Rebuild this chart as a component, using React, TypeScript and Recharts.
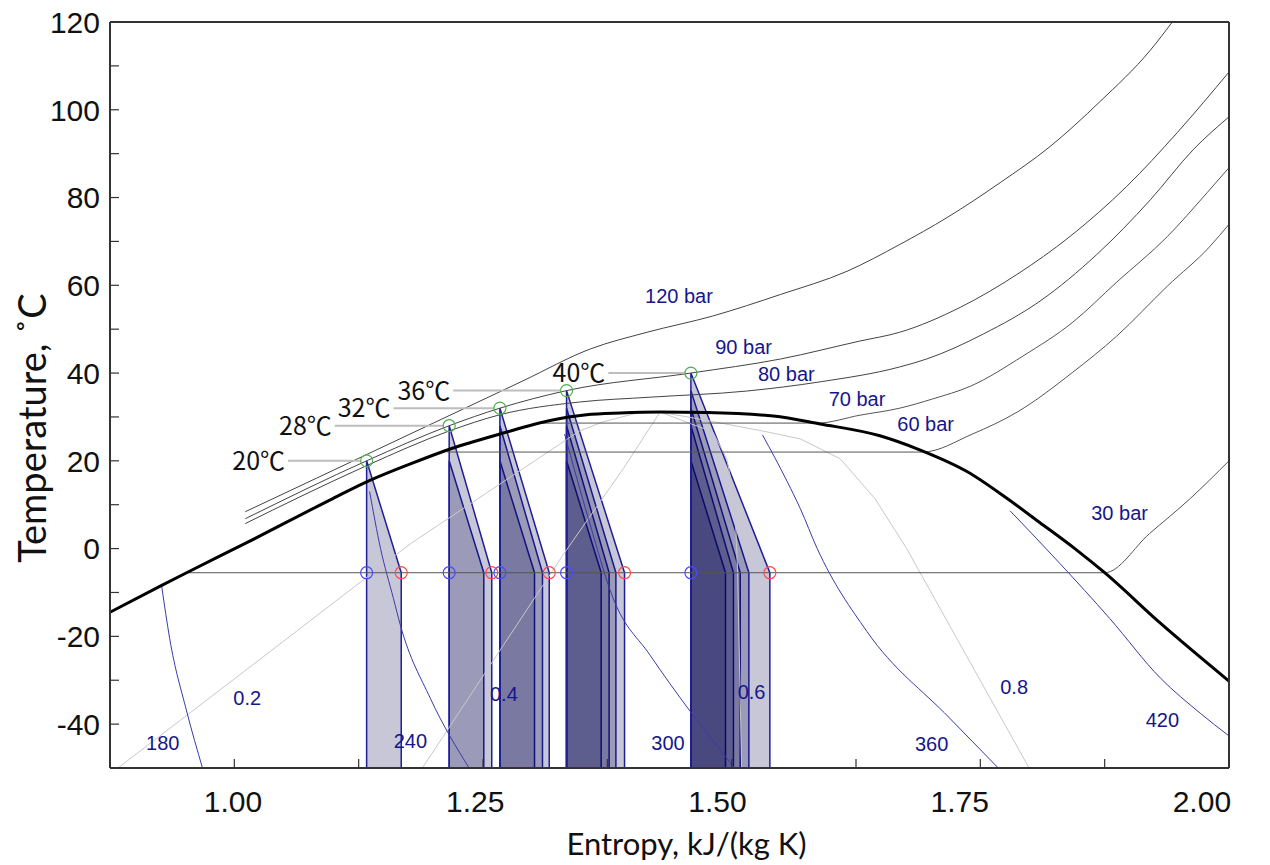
import React from 'react';
import { ComposedChart, Line, Area, Scatter, XAxis, YAxis } from 'recharts';

type Pt = { s: number; T: number };

// saturation dome of CO2 (entropy kJ/(kg K), temperature °C)
const satDome: Pt[] = [
  { s: 0.875, T: -14.5 }, { s: 0.927, T: -8.4 }, { s: 0.952, T: -5.5 }, { s: 1.013, T: 1.4 },
  { s: 1.099, T: 11.4 }, { s: 1.133, T: 15.2 }, { s: 1.177, T: 19.3 }, { s: 1.217, T: 22.7 },
  { s: 1.267, T: 26.1 }, { s: 1.32, T: 29.3 }, { s: 1.354, T: 30.5 }, { s: 1.388, T: 30.9 },
  { s: 1.428, T: 31.1 }, { s: 1.475, T: 31.0 }, { s: 1.542, T: 30.2 }, { s: 1.589, T: 28.4 },
  { s: 1.649, T: 25.7 }, { s: 1.689, T: 22.5 }, { s: 1.737, T: 17.5 }, { s: 1.777, T: 11.4 },
  { s: 1.81, T: 5.9 }, { s: 1.845, T: 0.0 }, { s: 1.875, T: -5.5 }, { s: 1.931, T: -17 },
  { s: 2.0, T: -30.2 },
];

// isobars
const p120: Pt[] = [
  { s: 1.011, T: 8.4 }, { s: 1.1, T: 17.9 }, { s: 1.2, T: 28.6 }, { s: 1.29, T: 38.2 },
  { s: 1.358, T: 45.5 }, { s: 1.415, T: 49.3 }, { s: 1.481, T: 53.0 }, { s: 1.549, T: 57.9 },
  { s: 1.616, T: 63.2 }, { s: 1.669, T: 69.3 }, { s: 1.717, T: 75.5 }, { s: 1.77, T: 83.4 },
  { s: 1.82, T: 91.6 }, { s: 1.87, T: 101.8 }, { s: 1.921, T: 113.6 }, { s: 1.943, T: 120 },
];
const p90: Pt[] = [
  { s: 1.011, T: 6.8 }, { s: 1.133, T: 20 }, { s: 1.216, T: 28 }, { s: 1.267, T: 32 },
  { s: 1.334, T: 36 }, { s: 1.459, T: 40 }, { s: 1.549, T: 43.2 }, { s: 1.629, T: 47.3 },
  { s: 1.669, T: 49.3 }, { s: 1.73, T: 55.0 }, { s: 1.787, T: 62.5 }, { s: 1.84, T: 71.1 },
  { s: 1.897, T: 82.5 }, { s: 1.948, T: 94.8 }, { s: 2.0, T: 108.6 },
];
const p80: Pt[] = [
  { s: 1.011, T: 5.7 }, { s: 1.066, T: 11.8 }, { s: 1.133, T: 18.9 }, { s: 1.216, T: 26.8 },
  { s: 1.267, T: 30.5 }, { s: 1.347, T: 33.4 }, { s: 1.418, T: 34.5 }, { s: 1.515, T: 35.9 },
  { s: 1.589, T: 38.0 }, { s: 1.669, T: 41.4 }, { s: 1.696, T: 43.2 }, { s: 1.753, T: 48.9 },
  { s: 1.81, T: 56.4 }, { s: 1.867, T: 67.0 }, { s: 1.921, T: 79.5 }, { s: 1.964, T: 90.9 },
  { s: 2.0, T: 98.4 },
];
const p70: Pt[] = [
  { s: 1.306, T: 28.6 }, { s: 1.586, T: 28.6 }, { s: 1.629, T: 30.4 }, { s: 1.669, T: 32.0 },
  { s: 1.702, T: 34.1 }, { s: 1.74, T: 37.0 }, { s: 1.793, T: 43.9 }, { s: 1.843, T: 51.6 },
  { s: 1.887, T: 60.7 }, { s: 1.938, T: 71.1 }, { s: 1.978, T: 81.1 }, { s: 2.0, T: 86.8 },
];
const p60: Pt[] = [
  { s: 1.214, T: 22 }, { s: 1.692, T: 22 }, { s: 1.742, T: 26.1 }, { s: 1.787, T: 31.1 },
  { s: 1.843, T: 40.2 }, { s: 1.887, T: 48.4 }, { s: 1.938, T: 59.8 }, { s: 1.981, T: 68.9 },
  { s: 2.0, T: 73.9 },
];
const p30: Pt[] = [
  { s: 0.952, T: -5.5 }, { s: 1.875, T: -5.5 }, { s: 1.92, T: 3.4 }, { s: 1.961, T: 11.4 },
  { s: 2.0, T: 20 },
];

// isenthalps (kJ/kg)
const h180: Pt[] = [{ s: 0.927, T: -8.6 }, { s: 0.935, T: -20.5 }, { s: 0.952, T: -37.0 }, { s: 0.968, T: -50 }];
const h240: Pt[] = [
  { s: 1.136, T: 13 }, { s: 1.147, T: 0 }, { s: 1.16, T: -11.4 }, { s: 1.167, T: -17.5 },
  { s: 1.197, T: -34.1 }, { s: 1.236, T: -50 },
];
const h300: Pt[] = [
  { s: 1.332, T: 26.1 }, { s: 1.356, T: 6.8 }, { s: 1.381, T: -11.4 }, { s: 1.418, T: -24.3 },
  { s: 1.458, T: -37.0 }, { s: 1.503, T: -50 },
];
const h360: Pt[] = [
  { s: 1.531, T: 25.9 }, { s: 1.556, T: 15.2 }, { s: 1.569, T: 9.1 }, { s: 1.586, T: 0 },
  { s: 1.636, T: -18.9 }, { s: 1.719, T: -38.6 }, { s: 1.768, T: -50 },
];
const h420: Pt[] = [
  { s: 1.78, T: 8.6 }, { s: 1.83, T: -3.4 }, { s: 1.88, T: -15.9 }, { s: 1.931, T: -29.5 },
  { s: 1.971, T: -37.5 }, { s: 2.0, T: -42.7 },
];

// vapour quality lines
const q02: Pt[] = [
  { s: 0.883, T: -50 }, { s: 1.03, T: -24.5 }, { s: 1.177, T: 1.1 }, { s: 1.347, T: 26.8 },
  { s: 1.371, T: 28.9 }, { s: 1.405, T: 30.9 }, { s: 1.428, T: 31.1 },
];
const q04: Pt[] = [{ s: 1.189, T: -50 }, { s: 1.33, T: -1.6 }, { s: 1.391, T: 18.2 }, { s: 1.428, T: 31.1 }];
const q06: Pt[] = [
  { s: 1.428, T: 31.1 }, { s: 1.481, T: 26.6 }, { s: 1.495, T: 20.5 }, { s: 1.503, T: 11.4 },
  { s: 1.506, T: -5.5 }, { s: 1.51, T: -50 },
];
const q08: Pt[] = [
  { s: 1.428, T: 31.1 }, { s: 1.468, T: 29.5 }, { s: 1.531, T: 26.8 }, { s: 1.569, T: 25.0 },
  { s: 1.609, T: 20.5 }, { s: 1.644, T: 11.4 }, { s: 1.676, T: 0 }, { s: 1.719, T: -17.5 },
  { s: 1.799, T: -50 },
];

// cycles: gas cooler exit temperature / entropy, and width of each cycle at the evaporator
const gasCoolerT = [20, 28, 32, 36, 40];
const gasCoolerS = [1.133, 1.216, 1.267, 1.334, 1.459];
const cycleWidth = [0.0348, 0.0428, 0.0496, 0.0583, 0.0794];
const evapT = -5.5;
const floorT = -50;
const leaderStartS = [1.054, 1.101, 1.16, 1.22, 1.376];

const barNotes = [
  { s: 1.447, T: 57.7, text: '120 bar' },
  { s: 1.512, T: 45.9, text: '90 bar' },
  { s: 1.555, T: 39.8, text: '80 bar' },
  { s: 1.626, T: 34.1, text: '70 bar' },
  { s: 1.695, T: 28.4, text: '60 bar' },
  { s: 1.89, T: 8.2, text: '30 bar' },
  { s: 0.928, T: -44.3, text: '180' },
  { s: 1.177, T: -43.9, text: '240' },
  { s: 1.436, T: -44.3, text: '300' },
  { s: 1.701, T: -44.5, text: '360' },
  { s: 1.933, T: -39.1, text: '420' },
  { s: 1.013, T: -33.9, text: '0.2' },
  { s: 1.271, T: -33.2, text: '0.4' },
  { s: 1.52, T: -32.7, text: '0.6' },
  { s: 1.784, T: -31.4, text: '0.8' },
];

const xMinorTicks = [0.875, 1, 1.125, 1.25, 1.375, 1.5, 1.625, 1.75, 1.875, 2];
const xLabelTicks = [1, 1.25, 1.5, 1.75, 2];
const yTicks = [-50, -40, -30, -20, -10, 0, 10, 20, 30, 40, 50, 60, 70, 80, 90, 100, 110, 120];

const INK = '#333';
const NAVY = '#16168c';
const EDGE = '#1f1f9c';
const TICK = 9;
const NUM_FONT = '"Liberation Sans", Arial, sans-serif';
const TITLE_FONT = 'Lato, "Open Sans", sans-serif';

const cyclePolys = gasCoolerS.flatMap((sL, g) =>
  gasCoolerT.slice(0, g + 1).map((Tk, k) => ({
    key: `cyc-${g}-${k}`,
    pts: [
      { s: sL, T: floorT },
      { s: sL, T: Tk },
      { s: sL + cycleWidth[k], T: evapT },
      { s: sL + cycleWidth[k], T: floorT },
    ],
  })),
);

const gcPoints = gasCoolerS.map((s, i) => ({ s, T: gasCoolerT[i] }));
const evapIn = gasCoolerS.map((s) => ({ s, T: evapT }));
const evapOut = gasCoolerS.map((s, i) => ({ s: s + cycleWidth[i], T: evapT }));
const tempNotes = gasCoolerS.map((s, i) => ({ s: leaderStartS[i], T: gasCoolerT[i], text: `${gasCoolerT[i]}℃` }));
const leaders = gasCoolerS.map((s, i) => [
  { s: leaderStartS[i], T: gasCoolerT[i] },
  { s: s - 0.006, T: gasCoolerT[i] },
]);
const xTickNotes = xLabelTicks.map((v) => ({ s: v, T: floorT, text: v.toFixed(2) }));

const BottomTick = ({ x, y }: any) => <line x1={x} y1={y} x2={x} y2={y - TICK} stroke={INK} strokeWidth={1.2} />;
const TopTick = ({ x, y }: any) => <line x1={x} y1={y} x2={x} y2={y + TICK} stroke={INK} strokeWidth={1.2} />;
const RightTick = ({ x, y }: any) => <line x1={x} y1={y} x2={x - TICK} y2={y} stroke={INK} strokeWidth={1.2} />;
const LeftTick = ({ x, y, payload }: any) => (
  <g>
    <line x1={x} y1={y} x2={x + TICK} y2={y} stroke={INK} strokeWidth={1.2} />
    {payload.value % 20 === 0 && (
      <text x={x - 10} y={y} dy="0.36em" textAnchor="end" fontSize={30} fontFamily={NUM_FONT} fill="#111">
        {payload.value}
      </text>
    )}
  </g>
);

const XTitle = ({ viewBox }: any) => (
  <text x={viewBox.x + viewBox.width / 2 + 17} y={viewBox.y + 86} textAnchor="middle" fontSize={31} fontFamily={TITLE_FONT} fill="#111">
    Entropy, kJ/(kg K)
  </text>
);
const YTitle = ({ viewBox }: any) => {
  const cx = viewBox.x + 23;
  const cy = viewBox.y + viewBox.height / 2 + 33;
  return (
    <text x={cx} y={cy} transform={`rotate(-90 ${cx} ${cy})`} textAnchor="middle" dominantBaseline="central" fontSize={38} fontFamily={TITLE_FONT} fill="#111">
      Temperature, ˚C
    </text>
  );
};

const noteShape = (p: any) => (
  <text x={p.cx} y={p.cy} dy="0.36em" textAnchor="middle" fontSize={20} fontFamily={NUM_FONT} fill={NAVY}>
    {p.payload.text}
  </text>
);
const xTickShape = (p: any) => (
  <text x={p.cx} y={p.cy + 44} textAnchor="middle" fontSize={30} fontFamily={NUM_FONT} fill="#111">
    {p.payload.text}
  </text>
);
const tempShape = (p: any) => (
  <text x={p.cx - 3} y={p.cy} dy="0.36em" textAnchor="end" fontSize={25} fontFamily='"Noto Sans CJK SC", sans-serif' fill="#111">
    {p.payload.text}
  </text>
);
const ring = (color: string) => (p: any) => <circle cx={p.cx} cy={p.cy} r={6} fill="none" stroke={color} strokeWidth={1.2} />;

const thin = (data: Pt[], key: string, stroke: string, width = 1, type: 'monotone' | 'linear' = 'monotone') => (
  <Line
    key={key}
    data={data}
    dataKey="T"
    type={type}
    stroke={stroke}
    strokeWidth={width}
    dot={false}
    activeDot={false}
    isAnimationActive={false}
    legendType="none"
  />
);

export default function App() {
  return (
    <div style={{ position: 'absolute', top: 0, left: 0, width: 1270, height: 865 }}>
      <ComposedChart width={1270} height={865} margin={{ top: 21, right: 40, bottom: 95, left: 8 }}>
        <XAxis
          dataKey="s"
          type="number"
          domain={[0.875, 2]}
          ticks={xMinorTicks}
          interval={0}
          height={1}
          tickSize={0}
          tickMargin={0}
          tickLine={false}
          tick={<BottomTick />}
          axisLine={{ stroke: INK, strokeWidth: 2 }}
        />
        <XAxis
          xAxisId="lab"
          dataKey="s"
          type="number"
          domain={[0.873, 2.028]}
          ticks={xLabelTicks}
          height={1}
          tickSize={0}
          tickMargin={0}
          tickLine={false}
          axisLine={false}
          tick={false}
          label={<XTitle />}
        />
        <XAxis
          xAxisId="top"
          orientation="top"
          type="number"
          domain={[0.875, 2]}
          ticks={xMinorTicks}
          interval={0}
          height={1}
          tickSize={0}
          tickMargin={0}
          tickLine={false}
          tick={<TopTick />}
          axisLine={{ stroke: INK, strokeWidth: 2 }}
        />
        <YAxis
          type="number"
          domain={[-50, 120]}
          ticks={yTicks}
          interval={0}
          width={102}
          tickSize={0}
          tickMargin={0}
          tickLine={false}
          tick={<LeftTick />}
          axisLine={{ stroke: INK, strokeWidth: 2 }}
          label={<YTitle />}
        />
        <YAxis
          yAxisId="r"
          orientation="right"
          type="number"
          domain={[-50, 120]}
          ticks={yTicks}
          interval={0}
          width={1}
          tickSize={0}
          tickMargin={0}
          tickLine={false}
          tick={<RightTick />}
          axisLine={{ stroke: INK, strokeWidth: 2 }}
        />

        {cyclePolys.map((c) => (
          <Area
            key={c.key}
            data={c.pts}
            dataKey="T"
            type="linear"
            baseValue={floorT}
            stroke={EDGE}
            strokeWidth={1.5}
            fill="#00004e"
            fillOpacity={0.22}
            dot={false}
            activeDot={false}
            isAnimationActive={false}
            legendType="none"
          />
        ))}

        {thin(q02, 'q02', '#c8c8c8', 1, 'linear')}
        {thin(q04, 'q04', '#c8c8c8', 1, 'linear')}
        {thin(q06, 'q06', '#c8c8c8', 1, 'linear')}
        {thin(q08, 'q08', '#c8c8c8', 1, 'linear')}

        {thin(h180, 'h180', '#3a3aa8')}
        {thin(h240, 'h240', '#3a3aa8')}
        {thin(h300, 'h300', '#3a3aa8')}
        {thin(h360, 'h360', '#3a3aa8')}
        {thin(h420, 'h420', '#3a3aa8')}

        {thin(p120, 'p120', '#444')}
        {thin(p90, 'p90', '#444')}
        {thin(p80, 'p80', '#444')}
        {thin(p70, 'p70', '#555')}
        {thin(p60, 'p60', '#555')}
        {thin(p30, 'p30', '#555')}

        {leaders.map((d, i) => thin(d, `lead-${i}`, '#bdbdbd', 2, 'linear'))}

        {thin(satDome, 'dome', '#000', 3)}

        <Scatter data={gcPoints} dataKey="T" shape={ring('#4caf50')} isAnimationActive={false} legendType="none" />
        <Scatter data={evapIn} dataKey="T" shape={ring('#4a4aff')} isAnimationActive={false} legendType="none" />
        <Scatter data={evapOut} dataKey="T" shape={ring('#ff4a4a')} isAnimationActive={false} legendType="none" />
        <Scatter data={barNotes} dataKey="T" shape={noteShape} isAnimationActive={false} legendType="none" />
        <Scatter data={tempNotes} dataKey="T" shape={tempShape} isAnimationActive={false} legendType="none" />
        <Scatter xAxisId="lab" data={xTickNotes} dataKey="T" shape={xTickShape} isAnimationActive={false} legendType="none" />
      </ComposedChart>
    </div>
  );
}
